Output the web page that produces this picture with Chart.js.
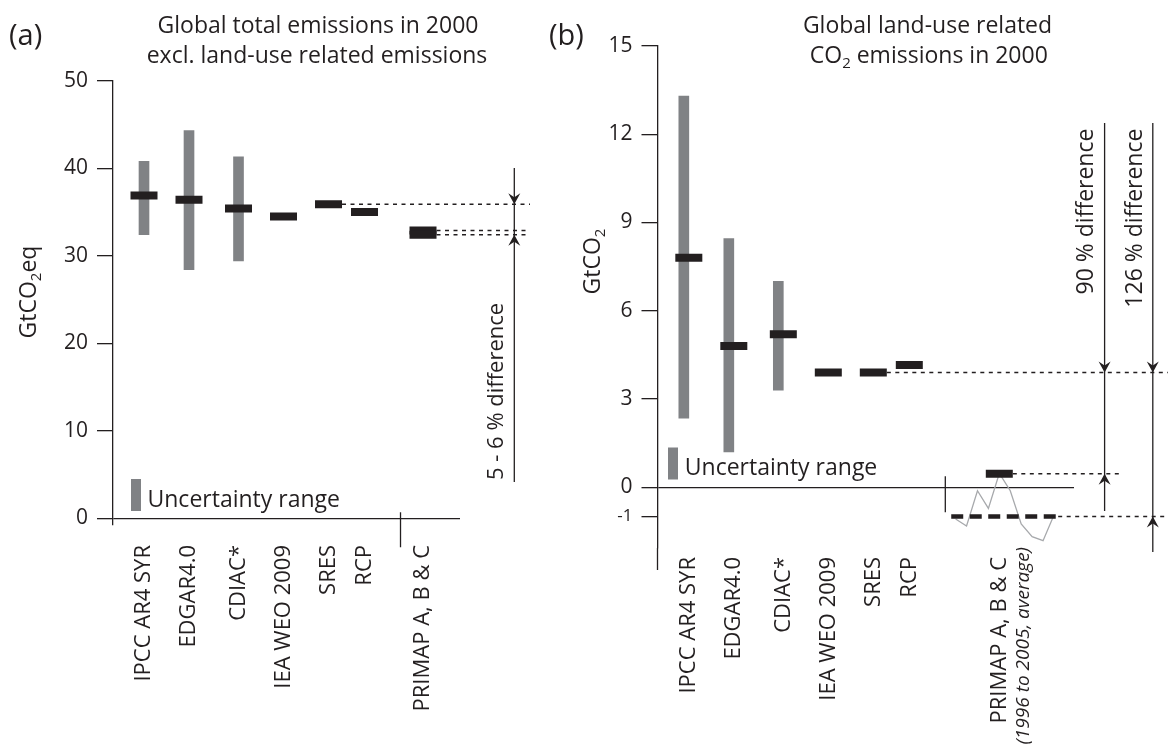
<!DOCTYPE html>
<html>
<head>
<meta charset="utf-8">
<script src="https://cdn.jsdelivr.net/npm/chart.js@4.4.1/dist/chart.umd.min.js"></script>
<style>
  body { margin: 0; background: #fff; }
  #wrap { position: relative; width: 1168px; height: 756px; overflow: hidden; }
  canvas { position: absolute; top: 0; }
  #panelA { left: 0; }
  #panelB { left: 540px; }
</style>
</head>
<body>
<div id="wrap">
  <canvas id="panelA" width="540" height="756"></canvas>
  <canvas id="panelB" width="628" height="756"></canvas>
</div>
<script>
// sources along the x axis (same in both panels)
const sources = ["IPCC AR4 SYR", "EDGAR4.0", "CDIAC*", "IEA WEO 2009", "SRES", "RCP", "PRIMAP A, B & C"];
const slotsA = [1, 2, 3.1, 4.1, 5.1, 5.9, 7.2];
const slotsB = [1, 2, 3.1, 4.1, 5.1, 5.9, 7.9];
const groupBreak = 6.7;

// (a) total emissions excl. land use, GtCO2eq
const centralA = [36.9, 36.4, 35.4, 34.5, 35.9, 35.0];
const primapA = [32.9, 32.4];
const lowA = [32.4, 28.4, 29.4];
const highA = [40.8, 44.3, 41.3];
const ticksA = [0, 10, 20, 30, 40, 50];

// (b) land-use CO2, GtCO2
const centralB = [7.8, 4.8, 5.2, 3.9, 3.9, 4.15];
const primapB2000 = 0.46;
const lowB = [2.35, 1.2, 3.3];
const highB = [13.3, 8.45, 7.0];
const ticksB = [-1, 0, 3, 6, 9, 12, 15];
const primapYears = [1996, 1997, 1998, 1999, 2000, 2001, 2002, 2003, 2004, 2005];
const primapAnnualB = [-1.08, -1.32, -0.12, -0.72, 0.47, -0.12, -1.25, -1.68, -1.82, -0.95];
const primapAvgB = -1.0;

const ink = "#231f20";
const rangeGrey = "#808285";
const annualGrey = "#a7a9ac";
const family = "'Open Sans', sans-serif";

Chart.defaults.font.family = family;
Chart.defaults.color = ink;

function xAxis(slots, min, max, pad, height) {
  return {
    type: "linear",
    min: min,
    max: max,
    offset: false,
    afterBuildTicks: (s) => { s.ticks = slots.map((v) => ({ value: v })); },
    afterFit: (s) => { s.height = height; },
    grid: { display: false },
    border: { display: false },
    ticks: {
      autoSkip: false,
      minRotation: 90,
      maxRotation: 90,
      padding: pad,
      color: ink,
      font: { family: family, size: 22 },
      callback: (v, i) => sources[i],
    },
  };
}

function yAxis(vals, min, max, width) {
  return {
    type: "linear",
    min: min,
    max: max,
    afterBuildTicks: (s) => { s.ticks = vals.map((v) => ({ value: v })); },
    afterFit: (s) => { s.width = width; },
    border: { display: true, color: ink, width: 1.3 },
    grid: {
      color: (c) => (c.tick && c.tick.value === 0 ? ink : "rgba(0,0,0,0)"),
      lineWidth: 1.3,
      tickColor: ink,
      tickLength: 16,
    },
    ticks: {
      padding: 9,
      color: ink,
      font: (c) => ({ family: family, size: c.tick && c.tick.value === -1 ? 17 : 21 }),
    },
  };
}

function dotted(ctx, x1, x2, y) {
  ctx.save();
  ctx.setLineDash([4, 4.5]);
  ctx.lineWidth = 1.5;
  ctx.beginPath();
  ctx.moveTo(x1, y);
  ctx.lineTo(x2, y);
  ctx.stroke();
  ctx.restore();
}

function vline(ctx, x, y1, y2) {
  ctx.lineWidth = 1.3;
  ctx.beginPath();
  ctx.moveTo(x, y1);
  ctx.lineTo(x, y2);
  ctx.stroke();
}

// dir 1 points down, -1 points up
function arrowHead(ctx, x, y, dir) {
  ctx.beginPath();
  ctx.moveTo(x, y);
  ctx.lineTo(x - 6, y - dir * 11);
  ctx.lineTo(x, y - dir * 7);
  ctx.lineTo(x + 6, y - dir * 11);
  ctx.closePath();
  ctx.fill();
}

function upText(ctx, text, x, y, align, font) {
  ctx.save();
  ctx.translate(x, y);
  ctx.rotate(-Math.PI / 2);
  ctx.font = font;
  ctx.textAlign = align;
  ctx.textBaseline = "middle";
  ctx.fillText(text, 0, 0);
  ctx.restore();
}

// parts: [text, size, dy]
function richText(ctx, parts, x, y) {
  const widths = parts.map((p) => {
    ctx.font = p[1] + "px " + family;
    return ctx.measureText(p[0]).width;
  });
  let cx = x - widths.reduce((a, b) => a + b, 0) / 2;
  ctx.textAlign = "left";
  ctx.textBaseline = "alphabetic";
  parts.forEach((p, i) => {
    ctx.font = p[1] + "px " + family;
    ctx.fillText(p[0], cx, y + p[2]);
    cx += widths[i];
  });
}

function legendKey(ctx, x, top, bottom, textX, baseline) {
  ctx.fillStyle = rangeGrey;
  ctx.fillRect(x, top, 10, bottom - top);
  ctx.fillStyle = ink;
  ctx.font = "23px " + family;
  ctx.textAlign = "left";
  ctx.textBaseline = "alphabetic";
  ctx.fillText("Uncertainty range", textX, baseline);
}

const notesA = {
  id: "notesA",
  afterDraw(chart) {
    const { ctx } = chart;
    const x = chart.scales.x;
    const y = chart.scales.y;
    ctx.save();
    ctx.strokeStyle = ink;
    ctx.fillStyle = ink;

    dotted(ctx, x.getPixelForValue(slotsA[4]) + 13.5, 530, y.getPixelForValue(centralA[4]));
    primapA.forEach((v) => dotted(ctx, x.getPixelForValue(slotsA[6]) + 13.5, 530, y.getPixelForValue(v)));

    vline(ctx, 514.3, 168, 482);
    arrowHead(ctx, 514.3, y.getPixelForValue(centralA[4]), 1);
    arrowHead(ctx, 514.3, y.getPixelForValue(Math.min(...primapA)), -1);
    upText(ctx, "5 - 6 % difference", 497, 480, "left", "22px " + family);

    const y0 = y.getPixelForValue(0);
    vline(ctx, x.getPixelForValue(groupBreak), y0 - 6, y0 + 29);

    legendKey(ctx, 131, 479, 511, 147.5, 506.5);

    ctx.font = "29px " + family;
    ctx.textAlign = "left";
    ctx.fillText("(a)", 9, 45);
    richText(ctx, [["Global total emissions in 2000", 23, 0]], 318, 33);
    richText(ctx, [["excl. land-use related emissions", 23, 0]], 317, 63);

    ctx.save();
    ctx.translate(36, 292);
    ctx.rotate(-Math.PI / 2);
    richText(ctx, [["GtCO", 23, 0], ["2", 15, 5], ["eq", 23, 0]], 0, 0);
    ctx.restore();
    ctx.restore();
  },
};

const notesB = {
  id: "notesB",
  afterDraw(chart) {
    const { ctx, chartArea } = chart;
    const x = chart.scales.x;
    const y = chart.scales.y;
    const yr = chart.scales.xYear;
    ctx.save();
    ctx.strokeStyle = ink;
    ctx.fillStyle = ink;

    // y axis runs on a little below the plot area
    vline(ctx, chartArea.left, chartArea.bottom, chartArea.bottom + 22);

    const yRef = y.getPixelForValue(centralB[4]);
    const yPrimap = y.getPixelForValue(primapB2000);
    const yAvg = y.getPixelForValue(primapAvgB);
    dotted(ctx, x.getPixelForValue(slotsB[4]) + 13.5, 628, yRef);
    dotted(ctx, x.getPixelForValue(slotsB[6]) + 13.5, 583, yPrimap);
    dotted(ctx, yr.getPixelForValue(2005.2) + 2, 628, yAvg);

    vline(ctx, 564.6, 123, 511);
    arrowHead(ctx, 564.6, yRef, 1);
    arrowHead(ctx, 564.6, yPrimap, -1);
    vline(ctx, 612.8, 123, 552);
    arrowHead(ctx, 612.8, yRef, 1);
    arrowHead(ctx, 612.8, yAvg, -1);
    upText(ctx, "90 % difference", 546, 128.6, "right", "23px " + family);
    upText(ctx, "126 % difference", 595, 128.6, "right", "23px " + family);

    const y0 = y.getPixelForValue(0);
    vline(ctx, x.getPixelForValue(groupBreak), y0 - 11, y0 + 25);

    upText(ctx, "(1996 to 2005, average)", x.getPixelForValue(slotsB[6]) + 24, 547, "right", "italic 19px " + family);

    legendKey(ctx, 128, 447.5, 479.5, 144.8, 474.7);

    ctx.font = "29px " + family;
    ctx.textAlign = "left";
    ctx.textBaseline = "alphabetic";
    ctx.fillText("(b)", 9, 45);
    richText(ctx, [["Global land-use related", 23, 0]], 387.5, 33);
    richText(ctx, [["CO", 23, 0], ["2", 15, 5], [" emissions in 2000", 23, 0]], 388.8, 63);

    ctx.save();
    ctx.translate(60, 261.5);
    ctx.rotate(-Math.PI / 2);
    richText(ctx, [["GtCO", 23, 0], ["2", 15, 5]], 0, 0);
    ctx.restore();
    ctx.restore();
  },
};

const markStyle = {
  type: "line",
  showLine: false,
  pointStyle: "line",
  pointRadius: 13.5,
  pointHoverRadius: 13.5,
  pointBorderWidth: 8,
  pointBorderColor: ink,
  pointBackgroundColor: ink,
};

function buildCharts() {
  const marksA = centralA.map((v, i) => ({ x: slotsA[i], y: v }))
    .concat(primapA.map((v) => ({ x: slotsA[6], y: v })));
  const rangesA = lowA.map((v, i) => ({ x: slotsA[i], y: [v, highA[i]] }));

  new Chart(document.getElementById("panelA"), {
    type: "bar",
    data: {
      datasets: [
        Object.assign({ data: marksA }, markStyle),
        { type: "bar", data: rangesA, backgroundColor: rangeGrey, barThickness: 10 },
      ],
    },
    options: {
      responsive: false,
      animation: false,
      events: [],
      layout: { padding: { left: 0, right: 80, top: 80.8, bottom: 0 } },
      plugins: { legend: { display: false }, tooltip: { enabled: false } },
      scales: {
        x: xAxis(slotsA, 0.311, 8.022, 12, 231),
        y: yAxis(ticksA, -0.77, 50, 113),
      },
    },
    plugins: [notesA],
  });

  const marksB = centralB.map((v, i) => ({ x: slotsB[i], y: v }))
    .concat([{ x: slotsB[6], y: primapB2000 }]);
  const rangesB = lowB.map((v, i) => ({ x: slotsB[i], y: [v, highB[i]] }));
  const annualB = primapYears.map((yv, i) => ({ x: yv, y: primapAnnualB[i] }));
  const avgB = [{ x: 1995.6, y: primapAvgB }, { x: 2005.2, y: primapAvgB }];

  new Chart(document.getElementById("panelB"), {
    type: "bar",
    data: {
      datasets: [
        Object.assign({ data: marksB }, markStyle),
        {
          type: "line", xAxisID: "xYear", data: avgB, borderColor: ink, borderWidth: 4.5,
          borderDash: [12, 6.5], pointRadius: 0,
        },
        {
          type: "line", xAxisID: "xYear", data: annualB, borderColor: annualGrey, borderWidth: 1.3,
          pointRadius: 0, tension: 0,
        },
        { type: "bar", data: rangesB, backgroundColor: rangeGrey, barThickness: 10 },
      ],
    },
    options: {
      responsive: false,
      animation: false,
      events: [],
      layout: { padding: { left: 0, right: 94, top: 46, bottom: 0 } },
      plugins: { legend: { display: false }, tooltip: { enabled: false } },
      scales: {
        x: xAxis(slotsB, 0.304, 9.56, 1, 208),
        xYear: { axis: "x", type: "linear", min: 1968.73, max: 2006.83, display: false, offset: false },
        y: yAxis(ticksB, -2.068, 15, 117.5),
      },
    },
    plugins: [notesB],
  });
}

Promise.all([
  document.fonts.load("22px 'Open Sans'"),
  document.fonts.load("italic 19px 'Open Sans'"),
]).then(buildCharts, buildCharts);
</script>
</body>
</html>
